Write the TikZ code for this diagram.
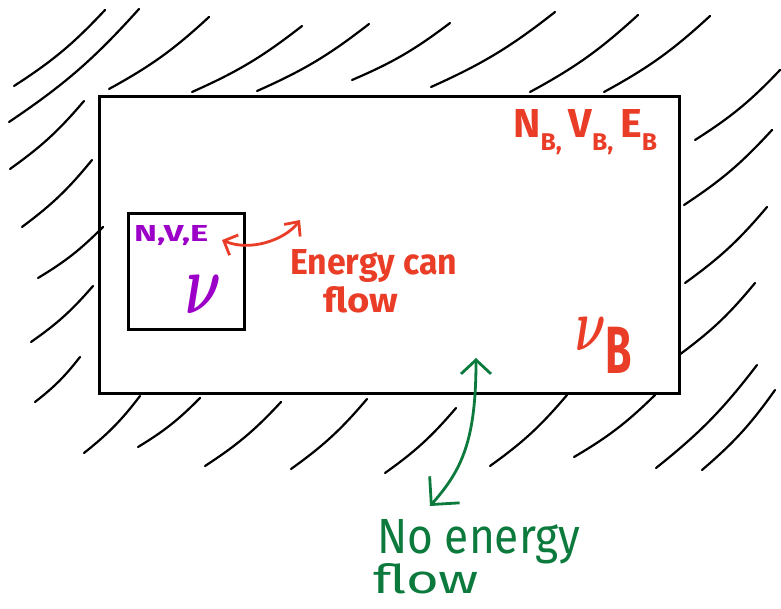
\documentclass[tikz,border=0pt]{standalone}
\usepackage{fontspec}
\usepackage{graphicx}
\setmainfont{Fira Sans}
\usetikzlibrary{arrows.meta}
\definecolor{hred}{HTML}{EA3D27}
\definecolor{hpurple}{HTML}{9C00C8}
\definecolor{hgreen}{HTML}{0C7A3C}
\newcommand\lowsub[1]{\raisebox{-0.3em}{\scalebox{0.6}{#1}}}
\begin{document}
\begin{tikzpicture}[x=1pt,y=-1pt,
  hatch/.style={line width=2.2pt,line cap=round,bend right=7},
  box/.style={draw,inner sep=0pt,anchor=north west},
  lbl/.style={inner sep=0pt,anchor=base west,font=\bfseries},
  glbl/.style={inner sep=0pt,anchor=base west,text=hgreen},
  redarrow/.style={draw=hred,line width=2.8pt,line cap=round,
    {Straight Barb[length=11pt,width=22pt,line width=2.8pt]}-{Straight Barb[length=11pt,width=20pt,line width=2.8pt]}},
  greenarrow/.style={draw=hgreen,line width=2.8pt,line cap=round,
    {Straight Barb[length=14pt,width=30pt,line width=2.8pt]}-{Straight Barb[length=20pt,width=40pt,line width=2.8pt]}}]
\useasboundingbox (0,0) rectangle (781,609);
% hatching
\foreach \a/\b/\c/\d in {
  14/86/105/10, 9/122/139/9, 109/89/209/17, 192/92/302/26, 257/91/369/24,
  352/80/450/23, 431/87/555/12, 530/92/638/15, 604/92/710/16,
  10/169/84/101, 22/227/92/160, 38/278/103/227, 31/342/93/286, 35/402/80/357,
  695/140/780/70, 684/205/772/130, 685/283/767/207, 679/355/755/283,
  656/468/757/365, 702/470/775/390,
  84/453/140/396, 138/447/200/398, 205/466/281/402, 291/469/367/399,
  385/473/456/408, 490/466/567/395, 574/457/655/395}
  \draw[hatch] (\a,\b) to (\c,\d);
% boxes
\node[box,line width=3pt,minimum width=580pt,minimum height=297pt] (outer) at (98,95) {};
\node[box,line width=2.6pt,minimum width=116pt,minimum height=116pt] (inner) at (127,212) {};
% labels
\node[lbl,text=hpurple] (nve) at (134,242) {\resizebox{74pt}{16pt}{N,V,E}};
\node[lbl,text=hpurple] (nu) at (185,313) {\resizebox{36pt}{38pt}{\boldmath$\nu$}};
\node[lbl,text=hred] (ec1) at (290,275) {\resizebox{167pt}{25pt}{Energy can}};
\node[lbl,text=hred] (ec2) at (323,313) {\resizebox{75pt}{26pt}{flow}};
\node[lbl,text=hred] (nb) at (513,138) {\resizebox{144pt}{28pt}{N\lowsub{B,}\,V\lowsub{B,}\,E\lowsub{B}}};
\node[lbl,text=hred] (nub) at (575,350) {\resizebox{57pt}{33pt}{\boldmath$\nu$\scalebox{0.9}{\raisebox{-0.35em}{B}}}};
\node[glbl] (ne1) at (377,553) {\resizebox{203pt}{34pt}{No energy}};
\node[glbl] (ne2) at (373,593) {\resizebox{106pt}{30pt}{flow}};
% arrows
\coordinate (rl) at (222,240);
\coordinate (rr) at (300,220);
\draw[redarrow] (rl) .. controls (250,252) and (285,240) .. (rr);
\coordinate (gt) at (476,358);
\coordinate (gb) at (430,506);
\draw[greenarrow] (gt) .. controls (476,440) and (462,470) .. (gb);
\end{tikzpicture}
\end{document}
